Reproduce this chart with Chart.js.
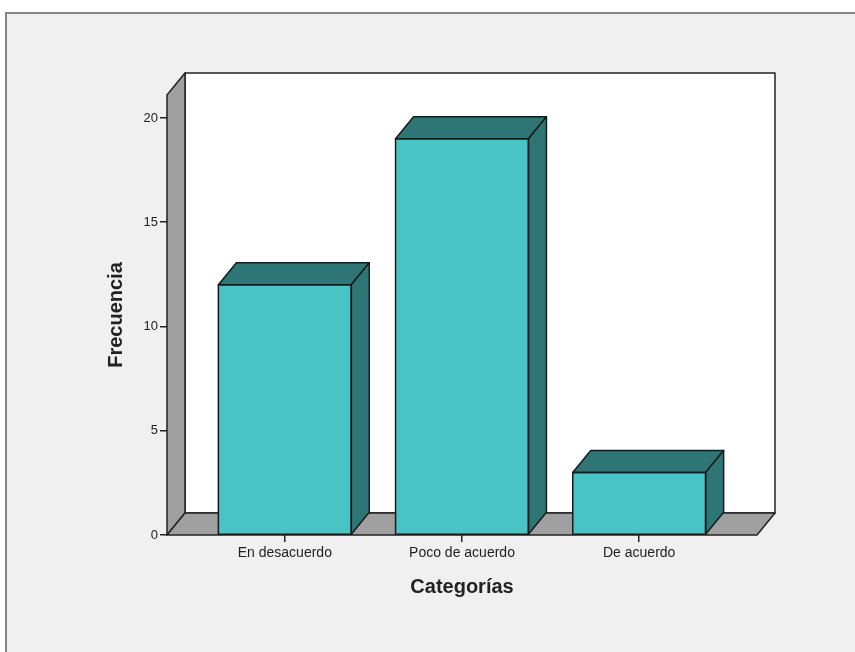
<!DOCTYPE html>
<html>
<head>
<meta charset="utf-8">
<script src="https://cdn.jsdelivr.net/npm/chart.js@4.4.1/dist/chart.umd.min.js"></script>
<style>
html, body { margin: 0; padding: 0; background: #fff; overflow: hidden; }
#frame { position: absolute; left: 5px; top: 12px; width: 900px; height: 700px;
         border: 2px solid #858585; background: #f0f0f0; }
canvas { position: absolute; left: 0; top: 0; }
</style>
</head>
<body>
<div id="frame"></div>
<canvas id="chart" width="855" height="652"></canvas>
<script>
const categories = ['En desacuerdo', 'Poco de acuerdo', 'De acuerdo'];
const frequencies = [12, 19, 3];
const yTicks = [0, 5, 10, 15, 20];

// depth of the fake 3D box, in pixels
const DX = 18;
const DY = -22;

const poly = (ctx, pts, fill) => {
    ctx.beginPath();
    ctx.moveTo(pts[0][0], pts[0][1]);
    for (let i = 1; i < pts.length; i++) ctx.lineTo(pts[i][0], pts[i][1]);
    ctx.closePath();
    ctx.fillStyle = fill;
    ctx.fill();
    ctx.stroke();
};

const box3d = {
    id: 'box3d',
    beforeDatasetsDraw(chart) {
        const {ctx, chartArea: a} = chart;
        ctx.save();
        ctx.strokeStyle = '#222';
        ctx.lineWidth = 1.5;
        ctx.lineJoin = 'round';
        // back wall
        poly(ctx, [[a.left + DX, a.top + DY], [a.right + DX, a.top + DY],
                   [a.right + DX, a.bottom + DY], [a.left + DX, a.bottom + DY]], '#ffffff');
        // left wall
        poly(ctx, [[a.left, a.top], [a.left + DX, a.top + DY],
                   [a.left + DX, a.bottom + DY], [a.left, a.bottom]], '#a0a0a0');
        // floor
        poly(ctx, [[a.left, a.bottom], [a.left + DX, a.bottom + DY],
                   [a.right + DX, a.bottom + DY], [a.right, a.bottom]], '#a0a0a0');
        ctx.restore();
    },
    afterDatasetsDraw(chart) {
        const {ctx} = chart;
        const meta = chart.getDatasetMeta(0);
        ctx.save();
        ctx.strokeStyle = '#1a1a1a';
        ctx.lineWidth = 1.5;
        ctx.lineJoin = 'round';
        meta.data.forEach(bar => {
            const p = bar.getProps(['x', 'y', 'base', 'width'], true);
            const x0 = p.x - p.width / 2;
            const x1 = p.x + p.width / 2;
            const top = p.y;
            const base = p.base;
            poly(ctx, [[x0, top], [x0 + DX, top + DY], [x1 + DX, top + DY], [x1, top]], '#2e7676');
            poly(ctx, [[x1, top], [x1 + DX, top + DY], [x1 + DX, base + DY], [x1, base]], '#2e7676');
            ctx.beginPath();
            ctx.rect(x0, top, x1 - x0, base - top);
            ctx.stroke();
        });
        ctx.restore();
    }
};

const family = "'Liberation Sans', Arial, sans-serif";
const titleFont = {family: family, size: 20, weight: 'bold'};

new Chart(document.getElementById('chart'), {
    type: 'bar',
    data: {
        datasets: [{
            data: frequencies.map((v, i) => ({x: i + 1, y: v})),
            backgroundColor: '#48c3c6',
            borderWidth: 0,
            barPercentage: 0.75,
            categoryPercentage: 1
        }]
    },
    options: {
        responsive: false,
        animation: false,
        layout: {padding: {left: 104, right: 98, top: 95, bottom: 53}},
        plugins: {legend: {display: false}, tooltip: {enabled: false}},
        scales: {
            x: {
                type: 'linear',
                offset: false,
                min: 0.335,
                max: 3.665,
                afterBuildTicks: s => { s.ticks = categories.map((c, i) => ({value: i + 1})); },
                afterFit: s => { s.height = 64; },
                ticks: {
                    callback: v => categories[v - 1],
                    color: '#222',
                    font: {family: family, size: 14},
                    padding: 3,
                    maxRotation: 0,
                    autoSkip: false
                },
                grid: {offset: false, drawOnChartArea: false, tickLength: 7, color: '#222', lineWidth: 1.5},
                border: {display: false},
                title: {display: true, text: 'Categorías', color: '#222', font: titleFont, padding: 0}
            },
            y: {
                min: 0,
                max: 21.1,
                afterBuildTicks: s => { s.ticks = yTicks.map(v => ({value: v})); },
                afterFit: s => { s.width = 63; },
                ticks: {color: '#222', font: {family: family, size: 13}, padding: 2},
                grid: {drawOnChartArea: false, tickLength: 7, color: '#222', lineWidth: 1.5},
                border: {display: false},
                title: {display: true, text: 'Frecuencia', color: '#222', font: titleFont, padding: 0}
            }
        }
    },
    plugins: [box3d]
});
</script>
</body>
</html>
